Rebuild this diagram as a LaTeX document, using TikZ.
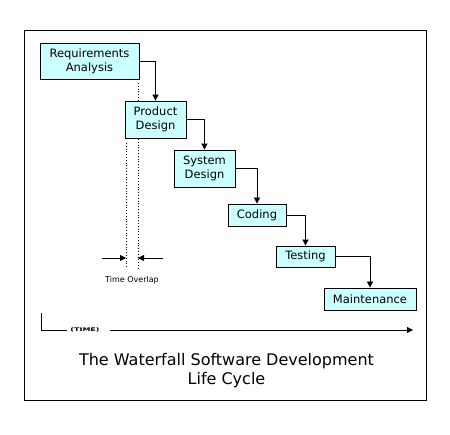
\documentclass[tikz,border=0pt]{standalone}
\usepackage{fontspec}
\setmainfont{DejaVu Sans}
\usetikzlibrary{arrows.meta}
\definecolor{phasecyan}{HTML}{CCFFFF}
\tikzstyle{phase} = [draw, fill=phasecyan, line width=0.8pt, align=center, inner sep=0pt, font=\fontsize{11.5}{14}\selectfont]
\tikzstyle{flow} = [line width=0.8pt, -{Triangle[length=6pt,width=6pt]}]

\begin{document}
\begin{tikzpicture}[x=1pt,y=-1pt]
			\useasboundingbox (0,0) rectangle (450,435);
			\draw[line width=0.8pt] (24.5,30) rectangle (426,400);
			% overlap marks
			\coordinate (lt) at (126,143);
			\coordinate (lb) at (126,268);
			\coordinate (rt) at (138,83);
			\coordinate (rb) at (138,268);
			\coordinate (la) at (102,258);
			\coordinate (ra) at (163,258);
			\draw[dotted,line width=0.8pt] (lt) -- (lb);
			\draw[dotted,line width=0.8pt] (rt) -- (rb);
			\draw[flow] (la) -- (la -| lt);
			\draw[flow] (ra) -- (ra -| rt);
			\node[font=\fontsize{8}{9}\selectfont] (overlap) at (132,280) {Time Overlap};
			% phases
			\node[phase, minimum width=99pt, minimum height=36pt] (req) at (89.5,61) {Requirements\\Analysis};
			\node[phase, minimum width=61pt, minimum height=37pt] (prod) at (155.5,119.5) {Product\\Design};
			\node[phase, minimum width=61pt, minimum height=37pt] (sys) at (204.5,168.5) {System\\Design};
			\node[phase, minimum width=58pt, minimum height=22pt] (code) at (257,215) {Coding};
			\node[phase, minimum width=59pt, minimum height=21pt] (test) at (305.5,256.5) {Testing};
			\node[phase, minimum width=92pt, minimum height=22pt] (maint) at (370,299) {Maintenance};
			\draw[flow] (req.east) -| (prod.north);
			\draw[flow] (prod.east) -| (sys.north);
			\draw[flow] (sys.east) -| (code.north);
			\draw[flow] (code.east) -| (test.north);
			\draw[flow] (test.east) -| (maint.north);
			% time axis
			\coordinate (t0) at (41,313);
			\coordinate (t1) at (41,330);
			\coordinate (t2) at (67,330);
			\coordinate (t3) at (110,330);
			\coordinate (t4) at (413,330);
			\draw[line width=0.8pt] (t0) -- (t1) -- (t2);
			\node[font=\fontsize{5}{6}\selectfont\bfseries] (time) at (85,330) {\scalebox{1.6}[1]{(TIME)}};
			\draw[flow] (t3) -- (t4);
			\node[align=center, font=\fontsize{16}{19.5}\selectfont] (title) at (226.5,370.5) {The Waterfall Software Development\\Life Cycle};
		\end{tikzpicture}
\end{document}
